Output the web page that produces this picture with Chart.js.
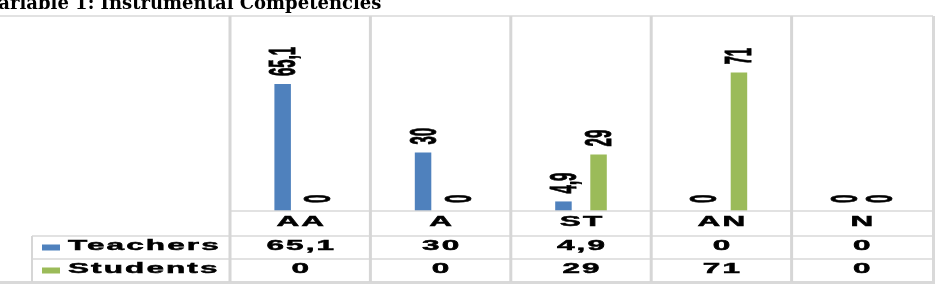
<!DOCTYPE html>
<html>
<head>
<meta charset="utf-8">
<script src="https://cdn.jsdelivr.net/npm/chart.js@4"></script>
<style>
  html, body { margin: 0; padding: 0; background: #fff; }
  #wrap { position: relative; width: 937px; height: 288px; overflow: hidden; }
  #title { position: absolute; left: -14px; top: -8px; font: bold 18px "DejaVu Serif", serif; line-height: 22px; color: #000; white-space: nowrap; }
  #c { position: absolute; left: 0; top: 0; }
</style>
</head>
<body>
<div id="wrap">
  <canvas id="c" width="937" height="288"></canvas>
  <div id="title">Variable 1: Instrumental Competencies</div>
</div>
<script>
const categories = ['AA', 'A', 'ST', 'AN', 'N'];
const seriesNames = ['Teachers', 'Students'];
const teachers = [65.1, 30, 4.9, 0, 0];
const students = [0, 0, 29, 71, 0];
const seriesColors = ['#4F81BD', '#9BBB59'];

function fmt(v) { return String(v).replace('.', ','); }

const tablePlugin = {
  id: 'tablePlugin',
  afterDatasetsDraw(chart) {
    const ctx = chart.ctx;
    const xs = chart.scales.x, ys = chart.scales.y, a = chart.chartArea;
    const n = categories.length;
    const base = ys.getPixelForValue(0);
    const rowH = [25, 23, 23];
    const r0 = base, r1 = r0 + rowH[0], r2 = r1 + rowH[1], r3 = r2 + rowH[2];
    const legendLeft = 32;
    const bounds = [];
    for (let i = 0; i <= n; i++) {
      if (i === 0) bounds.push(a.left);
      else if (i === n) bounds.push(a.right);
      else bounds.push((xs.getPixelForValue(i - 1) + xs.getPixelForValue(i)) / 2);
    }
    ctx.save();
    // outer border
    ctx.strokeStyle = '#d9d9d9';
    ctx.lineWidth = 1.5;
    ctx.beginPath(); ctx.moveTo(0, a.top); ctx.lineTo(a.right + 1, a.top); ctx.stroke();
    ctx.lineWidth = 3;
    ctx.beginPath(); ctx.moveTo(a.right + 1.5, a.top); ctx.lineTo(a.right + 1.5, r3 + 1); ctx.stroke();
    ctx.beginPath(); ctx.moveTo(0, r3 + 0.5); ctx.lineTo(a.right + 3, r3 + 0.5); ctx.stroke();
    // horizontal table lines
    ctx.lineWidth = 1.5;
    ctx.strokeStyle = '#d9d9d9';
    ctx.beginPath(); ctx.moveTo(a.left, r0); ctx.lineTo(a.right, r0); ctx.stroke();
    ctx.beginPath(); ctx.moveTo(legendLeft, r1); ctx.lineTo(a.right, r1); ctx.stroke();
    ctx.beginPath(); ctx.moveTo(legendLeft, r2); ctx.lineTo(a.right, r2); ctx.stroke();
    // vertical separators
    ctx.lineWidth = 3;
    ctx.strokeStyle = '#d6d6d6';
    for (let i = 0; i < n; i++) {
      ctx.beginPath(); ctx.moveTo(bounds[i], a.top); ctx.lineTo(bounds[i], r3); ctx.stroke();
    }
    ctx.lineWidth = 2;
    ctx.beginPath(); ctx.moveTo(legendLeft, r1); ctx.lineTo(legendLeft, r3); ctx.stroke();

    // stretched text helper
    const sx = 2.1;
    function txt(s, x, y, align) {
      ctx.save();
      ctx.font = 'bold 15px "Liberation Sans", Arial, sans-serif';
      try { ctx.letterSpacing = '1px'; } catch (e) {}
      ctx.fillStyle = '#000';
      ctx.strokeStyle = '#000';
      ctx.lineWidth = 0.5;
      ctx.textBaseline = 'middle';
      ctx.textAlign = 'left';
      let w = ctx.measureText(s).width;
      if (ctx.letterSpacing === '1px') w -= 1;
      ctx.translate(x, y);
      ctx.scale(sx, 1);
      const off = align === 'left' ? 0 : -w / 2;
      ctx.fillText(s, off, 0);
      ctx.strokeText(s, off, 0);
      ctx.restore();
    }
    // category row
    for (let i = 0; i < n; i++) {
      txt(categories[i], xs.getPixelForValue(i), (r0 + r1) / 2 - 1.5);
    }
    // series rows
    const rows = [[teachers, r1, r2], [students, r2, r3]];
    rows.forEach((row, k) => {
      const yc = (row[1] + row[2]) / 2;
      ctx.fillStyle = seriesColors[k];
      ctx.fillRect(42, yc - 3, 18, 6);
      txt(seriesNames[k], 68, yc - 2, 'left');
      for (let i = 0; i < n; i++) txt(fmt(row[0][i]), xs.getPixelForValue(i), yc - 2);
    });

    // rotated data labels
    const rs = 2.5;
    chart.data.datasets.forEach((ds, di) => {
      const meta = chart.getDatasetMeta(di);
      meta.data.forEach((bar, i) => {
        const v = ds.data[i];
        ctx.save();
        ctx.font = 'bold 15px "Liberation Sans", Arial, sans-serif';
        ctx.fillStyle = '#000';
        ctx.strokeStyle = '#000';
        ctx.lineWidth = 0.4;
        ctx.textBaseline = 'alphabetic';
        ctx.textAlign = 'left';
        ctx.translate(bar.x + 12.5, bar.y - 8);
        ctx.scale(rs, 1);
        ctx.rotate(-Math.PI / 2);
        ctx.fillText(fmt(v), 0, 0);
        ctx.strokeText(fmt(v), 0, 0);
        ctx.restore();
      });
    });
    ctx.restore();
  }
};

new Chart(document.getElementById('c'), {
  type: 'bar',
  data: {
    labels: categories,
    datasets: [
      { label: seriesNames[0], data: teachers, backgroundColor: seriesColors[0], borderWidth: 0 },
      { label: seriesNames[1], data: students, backgroundColor: seriesColors[1], borderWidth: 0 }
    ]
  },
  options: {
    responsive: false,
    animation: false,
    devicePixelRatio: 1,
    categoryPercentage: 0.5,
    barPercentage: 0.47,
    layout: { padding: { left: 230, right: 5, top: 16, bottom: 77 } },
    plugins: { legend: { display: false }, tooltip: { enabled: false }, title: { display: false } },
    scales: {
      x: { display: false },
      y: { display: false, min: 0, max: 100 }
    }
  },
  plugins: [tablePlugin]
});
</script>
</body>
</html>
